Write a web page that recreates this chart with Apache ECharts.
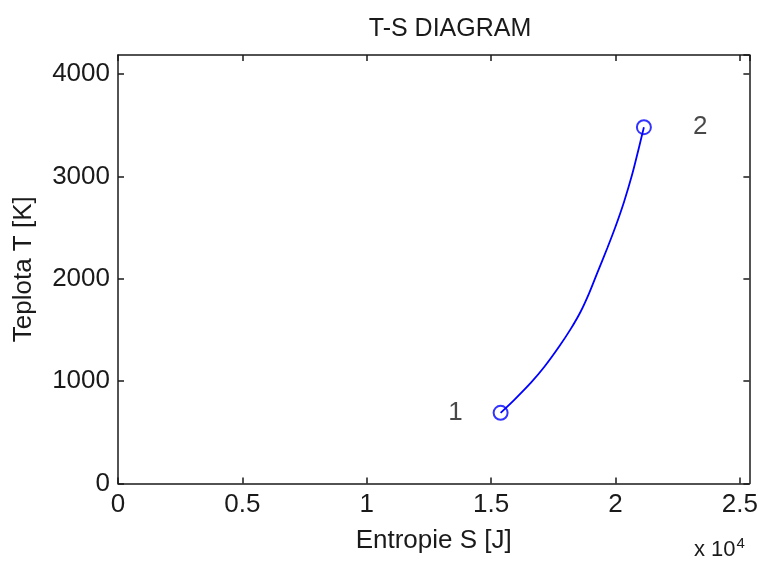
<!DOCTYPE html>
<html>
<head>
<meta charset="utf-8">
<script src="https://cdn.jsdelivr.net/npm/echarts@6/dist/echarts.min.js"></script>
<style>
  html, body { margin: 0; padding: 0; background: #ffffff; }
  #chart { width: 761px; height: 562px; }
</style>
</head>
<body>
<div id="chart"></div>
<script>
// Isochoric heating 1 -> 2: entropy S [J] and temperature T [K] along the curve
const entropyS = [15380, 15940, 16600, 17140, 17740, 18200, 18600, 18940, 19270, 19670, 20000, 20340, 20670, 20940, 21140];
const temperatureT = [690, 820, 985, 1140, 1340, 1510, 1680, 1860, 2060, 2300, 2510, 2750, 3020, 3280, 3480];

// End states marked with circles
const stateNames = ['1', '2'];
const stateS = [15380, 21140];
const stateT = [690, 3480];

// Axis ranges and tick spacing
const xRange = [0, 25380];
const yRange = [0, 4185];
const xStep = 5000;
const yStep = 1000;

const FONT = '"Liberation Sans", Arial, Helvetica, sans-serif';
const INK = '#1a1a1a';
const BLUE = '#0000ff';

const chart = echarts.init(document.getElementById('chart'), null, { renderer: 'canvas' });

const axisBase = {
  type: 'value',
  scale: false,
  splitLine: { show: false },
  axisLine: { show: true, onZero: false, lineStyle: { color: INK, width: 1.5 } },
  axisTick: { show: true, inside: true, length: 6, lineStyle: { color: INK, width: 1.5 } }
};

chart.setOption({
  animation: false,
  backgroundColor: '#ffffff',
  title: {
    text: 'T-S DIAGRAM',
    left: 445,
    top: 12,
    textAlign: 'center',
    textStyle: { fontFamily: FONT, fontWeight: 'normal', fontSize: 25, color: INK }
  },
  grid: { left: 118, right: 8, top: 55, bottom: 78.5, containLabel: false },
  xAxis: [
    Object.assign({}, axisBase, {
      position: 'bottom',
      min: xRange[0], max: xRange[1], interval: xStep,
      name: 'Entropie S [J]',
      nameLocation: 'middle',
      nameGap: 44,
      nameTextStyle: { fontFamily: FONT, fontSize: 26, color: INK },
      axisLabel: {
        margin: 8,
        fontFamily: FONT, fontSize: 26, color: INK,
        showMaxLabel: false,
        formatter: v => (v % xStep === 0 ? String(v / 1e4) : '')
      }
    }),
    Object.assign({}, axisBase, {
      position: 'top',
      min: xRange[0], max: xRange[1], interval: xStep,
      axisLabel: { show: false }
    })
  ],
  yAxis: [
    Object.assign({}, axisBase, {
      position: 'left',
      min: yRange[0], max: yRange[1], interval: yStep,
      name: 'Teplota T [K]',
      nameLocation: 'middle',
      nameGap: 81,
      nameTextStyle: { fontFamily: FONT, fontSize: 26, color: INK },
      axisLabel: {
        margin: 8,
        fontFamily: FONT, fontSize: 26, color: INK,
        showMaxLabel: false,
        formatter: v => (v % yStep === 0 ? String(v) : '')
      }
    }),
    Object.assign({}, axisBase, {
      position: 'right',
      min: yRange[0], max: yRange[1], interval: yStep,
      axisLabel: { show: false }
    })
  ],
  graphic: [{
    type: 'text',
    left: 694,
    top: 536,
    style: {
      text: 'x 10{s|4}',
      fontFamily: FONT,
      fontSize: 22,
      fill: INK,
      rich: { s: { fontFamily: FONT, fontSize: 15, fill: INK, verticalAlign: 'top', padding: [0, 0, 12, 1] } }
    }
  }],
  series: [
    {
      type: 'line',
      smooth: 0.3,
      showSymbol: false,
      data: entropyS.map((s, i) => [s, temperatureT[i]]),
      lineStyle: { color: BLUE, width: 1.8 },
      z: 2
    },
    {
      type: 'scatter',
      symbol: 'circle',
      symbolSize: 14,
      itemStyle: { color: 'rgba(0,0,0,0)', borderColor: BLUE, borderWidth: 2 },
      data: stateNames.map((n, i) => ({
        name: n,
        value: [stateS[i], stateT[i]],
        label: {
          show: true,
          formatter: n,
          position: i === 0 ? 'left' : 'right',
          distance: i === 0 ? 30 : 41,
          fontFamily: FONT,
          fontSize: 26,
          color: INK
        }
      })),
      z: 3
    }
  ]
});
</script>
</body>
</html>
